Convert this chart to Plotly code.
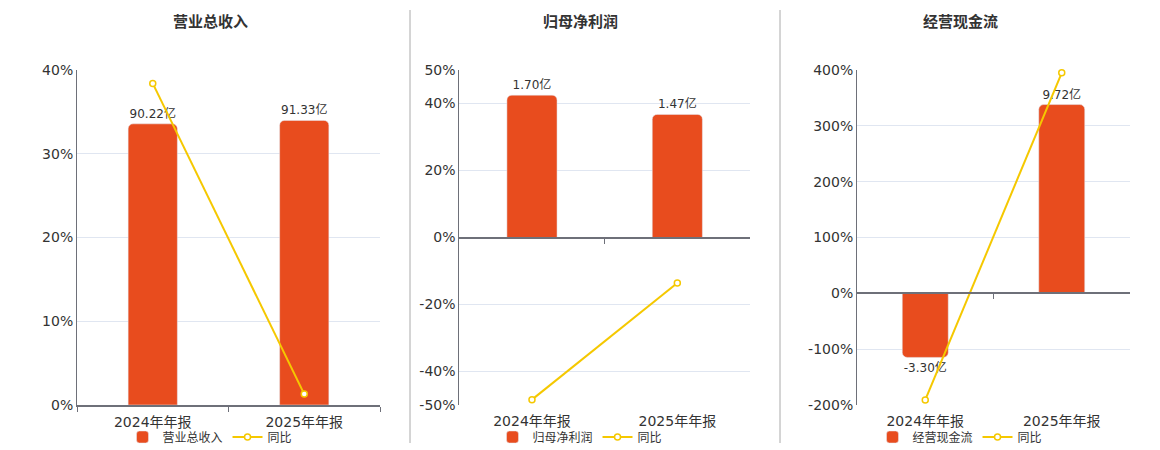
import plotly.graph_objects as go

# data
periods = ["2024年年报", "2025年年报"]

revenue = [90.22, 91.33]          # 营业总收入, 亿
revenue_yoy = [38.4, 1.3]         # 同比 %

net_profit = [1.70, 1.47]         # 归母净利润, 亿
net_profit_yoy = [-48.4, -13.6]

cash_flow = [-3.30, 9.72]         # 经营现金流, 亿
cash_flow_yoy = [-191, 395]

panel_titles = ["营业总收入", "归母净利润", "经营现金流"]

pct_ticks = [[0, 10, 20, 30, 40],
             [-50, -40, -20, 0, 20, 40, 50],
             [-200, -100, 0, 100, 200, 300, 400]]

BAR_COLOR = "#e84c1e"
LINE_COLOR = "#f5c800"
TEXT = "#333333"
AXIS = "#6e7079"
GRID = "#e0e6f1"
FONT = "DejaVu Sans, Noto Sans CJK SC, sans-serif"

W, H = 1160, 450


def px_x(a, b):
    return [a / W, b / W]


Y_DOM = [(450 - 405) / H, (450 - 70) / H]

fig = go.Figure()


def add_panel(fig, n, bar_vals, yoy_vals, name, width, legend):
    xa = "x" if n == 1 else f"x{n}"
    yb = "y" if n == 1 else f"y{2 * n - 1}"
    yp = f"y{2 * n}"
    fig.add_trace(go.Bar(
        x=periods, y=bar_vals, xaxis=xa, yaxis=yb, name=name,
        marker=dict(color=BAR_COLOR, cornerradius=5),
        width=width,
        text=[f"{v:.2f}亿" for v in bar_vals], textposition="outside",
        textfont=dict(size=12, color=TEXT), cliponaxis=False,
        legend=legend, hoverinfo="skip",
    ))
    fig.add_trace(go.Scatter(
        x=periods, y=yoy_vals, xaxis=xa, yaxis=yp, name="同比",
        mode="lines+markers",
        line=dict(color=LINE_COLOR, width=2),
        marker=dict(symbol="circle", size=6, color="white",
                    line=dict(color=LINE_COLOR, width=1.5)),
        cliponaxis=False, legend=legend, hoverinfo="skip",
    ))


add_panel(fig, 1, revenue, revenue_yoy, "营业总收入", 0.325, "legend")
add_panel(fig, 2, net_profit, net_profit_yoy, "归母净利润", 0.345, "legend2")
add_panel(fig, 3, cash_flow, cash_flow_yoy, "经营现金流", 0.337, "legend3")

# invisible traces to carry the zero-line axes of panels 2 and 3
for xa, ya in [("x4", "y4"), ("x5", "y6")]:
    fig.add_trace(go.Scatter(x=periods, y=[None, None], xaxis=xa, yaxis=ya,
                             showlegend=False, hoverinfo="skip"))

domains = [px_x(77, 380), px_x(459.3, 750), px_x(857, 1130)]
bar_ranges = [[0, 107.5], [-2, 2], [-5.75, 11.5]]
pct_ranges = [[0, 40], [-50, 50], [-200, 400]]

tickfont = dict(size=14, color=TEXT)
layout = {}
for i in range(3):
    n = i + 1
    xk = "xaxis" if n == 1 else f"xaxis{n}"
    ybk = "yaxis" if n == 1 else f"yaxis{2 * n - 1}"
    ypk = f"yaxis{2 * n}"
    yb = "y" if n == 1 else f"y{2 * n - 1}"
    layout[xk] = dict(
        domain=domains[i], anchor=yb, type="category", tickson="boundaries",
        showline=(n == 1), linecolor=AXIS, linewidth=2,
        ticks="outside" if n == 1 else "", ticklen=5, tickcolor=AXIS,
        ticklabelstandoff=3 if n == 1 else 6,
        showgrid=False, tickfont=tickfont, fixedrange=True,
    )
    layout[ybk] = dict(domain=Y_DOM, range=bar_ranges[i], visible=False,
                       fixedrange=True)
    layout[ypk] = dict(
        overlaying=yb, anchor=("x" if n == 1 else f"x{n}"), side="left",
        range=pct_ranges[i], tickvals=pct_ticks[i],
        ticktext=[f"{v}%" for v in pct_ticks[i]],
        showline=True, linecolor=AXIS, linewidth=1,
        showgrid=True, gridcolor=GRID, gridwidth=1, zeroline=False,
        ticks="", tickfont=tickfont, fixedrange=True,
    )

# zero-line axes for panels 2 and 3 (axis line crosses at 0%)
zero_pos = [(450 - 237.7) / H, (450 - 292.7) / H]
for k, (base, pos) in enumerate(zip(["x2", "x3"], zero_pos)):
    layout[f"xaxis{4 + k}"] = dict(
        overlaying=base, anchor="free", position=pos, type="category",
        tickson="boundaries", showline=True, linecolor=AXIS, linewidth=2,
        ticks="outside", ticklen=5, tickcolor=AXIS, showticklabels=False,
        showgrid=False, fixedrange=True,
    )

fig.update_layout(**layout)

legend_x = [210, 580, 960]
legend_common = dict(orientation="h", yanchor="middle", xanchor="center",
                     y=(450 - 437) / H, font=dict(size=12, color=TEXT),
                     itemwidth=30, bgcolor="rgba(0,0,0,0)")
fig.update_layout(
    legend=dict(x=legend_x[0] / W, **legend_common),
    legend2=dict(x=legend_x[1] / W, **legend_common),
    legend3=dict(x=legend_x[2] / W, **legend_common),
)

annotations = []
for t, xc in zip(panel_titles, legend_x):
    annotations.append(dict(
        text=f"<b>{t}</b>", x=xc / W, y=(450 - 22) / H, xref="paper",
        yref="paper", showarrow=False, xanchor="center", yanchor="middle",
        font=dict(size=15, color=TEXT),
    ))

shapes = []
for xv in [410, 780]:
    shapes.append(dict(type="line", xref="paper", yref="paper",
                       x0=xv / W, x1=xv / W, y0=(450 - 443) / H,
                       y1=(450 - 10) / H,
                       line=dict(color="#aaaaaa", width=1)))

fig.update_layout(
    width=W, height=H,
    margin=dict(l=0, r=0, t=0, b=0, autoexpand=False),
    paper_bgcolor="white", plot_bgcolor="white",
    font=dict(family=FONT, color=TEXT),
    barmode="overlay",
    annotations=annotations, shapes=shapes,
    hovermode=False,
)

fig.write_html("out.html", config={"displayModeBar": False},
               post_script="document.body.style.margin='0';")
